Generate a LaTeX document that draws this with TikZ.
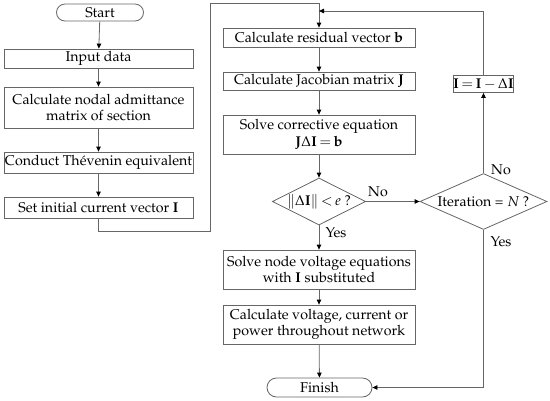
\documentclass[tikz,border=0pt]{standalone}
\usepackage[T1]{fontenc}
\usepackage{mathpazo}
\usetikzlibrary{shapes.misc,shapes.geometric,arrows.meta}
\begin{document}
\begin{tikzpicture}[x=1pt,y=-1pt,
  line width=0.8pt,
  every node/.style={font=\fontsize{14.2}{16}\selectfont, inner sep=0pt},
  box/.style={draw=black!60, rectangle, align=center},
  term/.style={draw=black!60, rounded rectangle, align=center},
  dec/.style={draw=black!60, diamond, aspect=2, align=center},
  lbl/.style={draw=none},
  conn/.style={draw=black!60, -{Triangle[length=5pt,width=4.5pt,fill=black,color=black]}},
  plain/.style={draw=black!60}]
\useasboundingbox (0,0) rectangle (550,400);
% left column
\node[term, minimum width=87pt, minimum height=17pt] (start) at (100,12.5) {Start};
\node[box, minimum width=189pt, minimum height=19pt] (input) at (98.5,58.5) {Input data};
\node[box, minimum width=189pt, minimum height=41pt] (nodal) at (98.5,107.5) {Calculate nodal admittance\\matrix of section};
\node[box, minimum width=189pt, minimum height=21pt] (thev) at (98.5,162.5) {Conduct Th\'evenin equivalent};
\node[box, minimum width=189pt, minimum height=21pt] (setI) at (98.5,207.5) {Set initial current vector $\mathbf{I}$};
% centre column
\node[box, minimum width=192pt, minimum height=19pt] (resid) at (319,37.5) {Calculate residual vector $\mathbf{b}$};
\node[box, minimum width=192pt, minimum height=18pt] (jac) at (319,81) {Calculate Jacobian matrix $\mathbf{J}$};
\node[box, minimum width=192pt, minimum height=39pt] (solve) at (319,134.5) {Solve corrective equation\\[1.5pt]$\mathbf{J}\Delta\mathbf{I}\,{=}\,\mathbf{b}$};
\node[dec, minimum width=87pt, minimum height=47pt] (dia1) at (319,201.5) {$\|\Delta\mathbf{I}\|\,{<}\,e$ ?};
\node[box, minimum width=192pt, minimum height=39pt] (volt) at (319,269.5) {Solve node voltage equations\\with $\mathbf{I}$ substituted};
\node[box, minimum width=192pt, minimum height=39pt] (calc) at (319,324.5) {Calculate voltage, current or\\power throughout network};
\node[term, minimum width=105pt, minimum height=19pt] (finish) at (319.5,387.5) {Finish};
% right column
\node[dec, minimum width=127pt, minimum height=47pt] (dia2) at (483.5,201.5) {Iteration = $N$ ?};
\node[box, minimum width=57pt, minimum height=17pt] (upd) at (483.5,84) {$\mathbf{I}\,{=}\,\mathbf{I}\,{-}\,\Delta\mathbf{I}$};
% helper coordinates
\coordinate (c1) at (210,231);
\coordinate (c2) at (210,3);
\coordinate (c4) at (319,11);
% connectors
\draw[conn] (start) -- (input);
\draw[conn] (input) -- (nodal);
\draw[conn] (nodal) -- (thev);
\draw[conn] (thev) -- (setI);
\draw[conn] (setI.south) |- (c1) -- (c2) -| (resid.north);
\draw[conn] (resid) -- (jac);
\draw[conn] (jac) -- (solve);
\draw[conn] (solve) -- (dia1.north);
\draw[conn] (dia1.south) -- (volt.north);
\draw[conn] (dia1.east) -- (dia2.west);
\draw[conn] (dia2.north) -- (upd.south);
\draw[conn] (upd.north) |- (c4);
\draw[conn] (volt) -- (calc);
\draw[conn] (calc) -- (finish);
\draw[conn] (dia2.south) |- (finish.east);
% labels
\node[lbl] (no1) at (378,192) {No};
\node[lbl] (no2) at (501,170) {No};
\node[lbl] (yes1) at (336,233) {Yes};
\node[lbl] (yes2) at (501,242) {Yes};
\end{tikzpicture}
\end{document}
